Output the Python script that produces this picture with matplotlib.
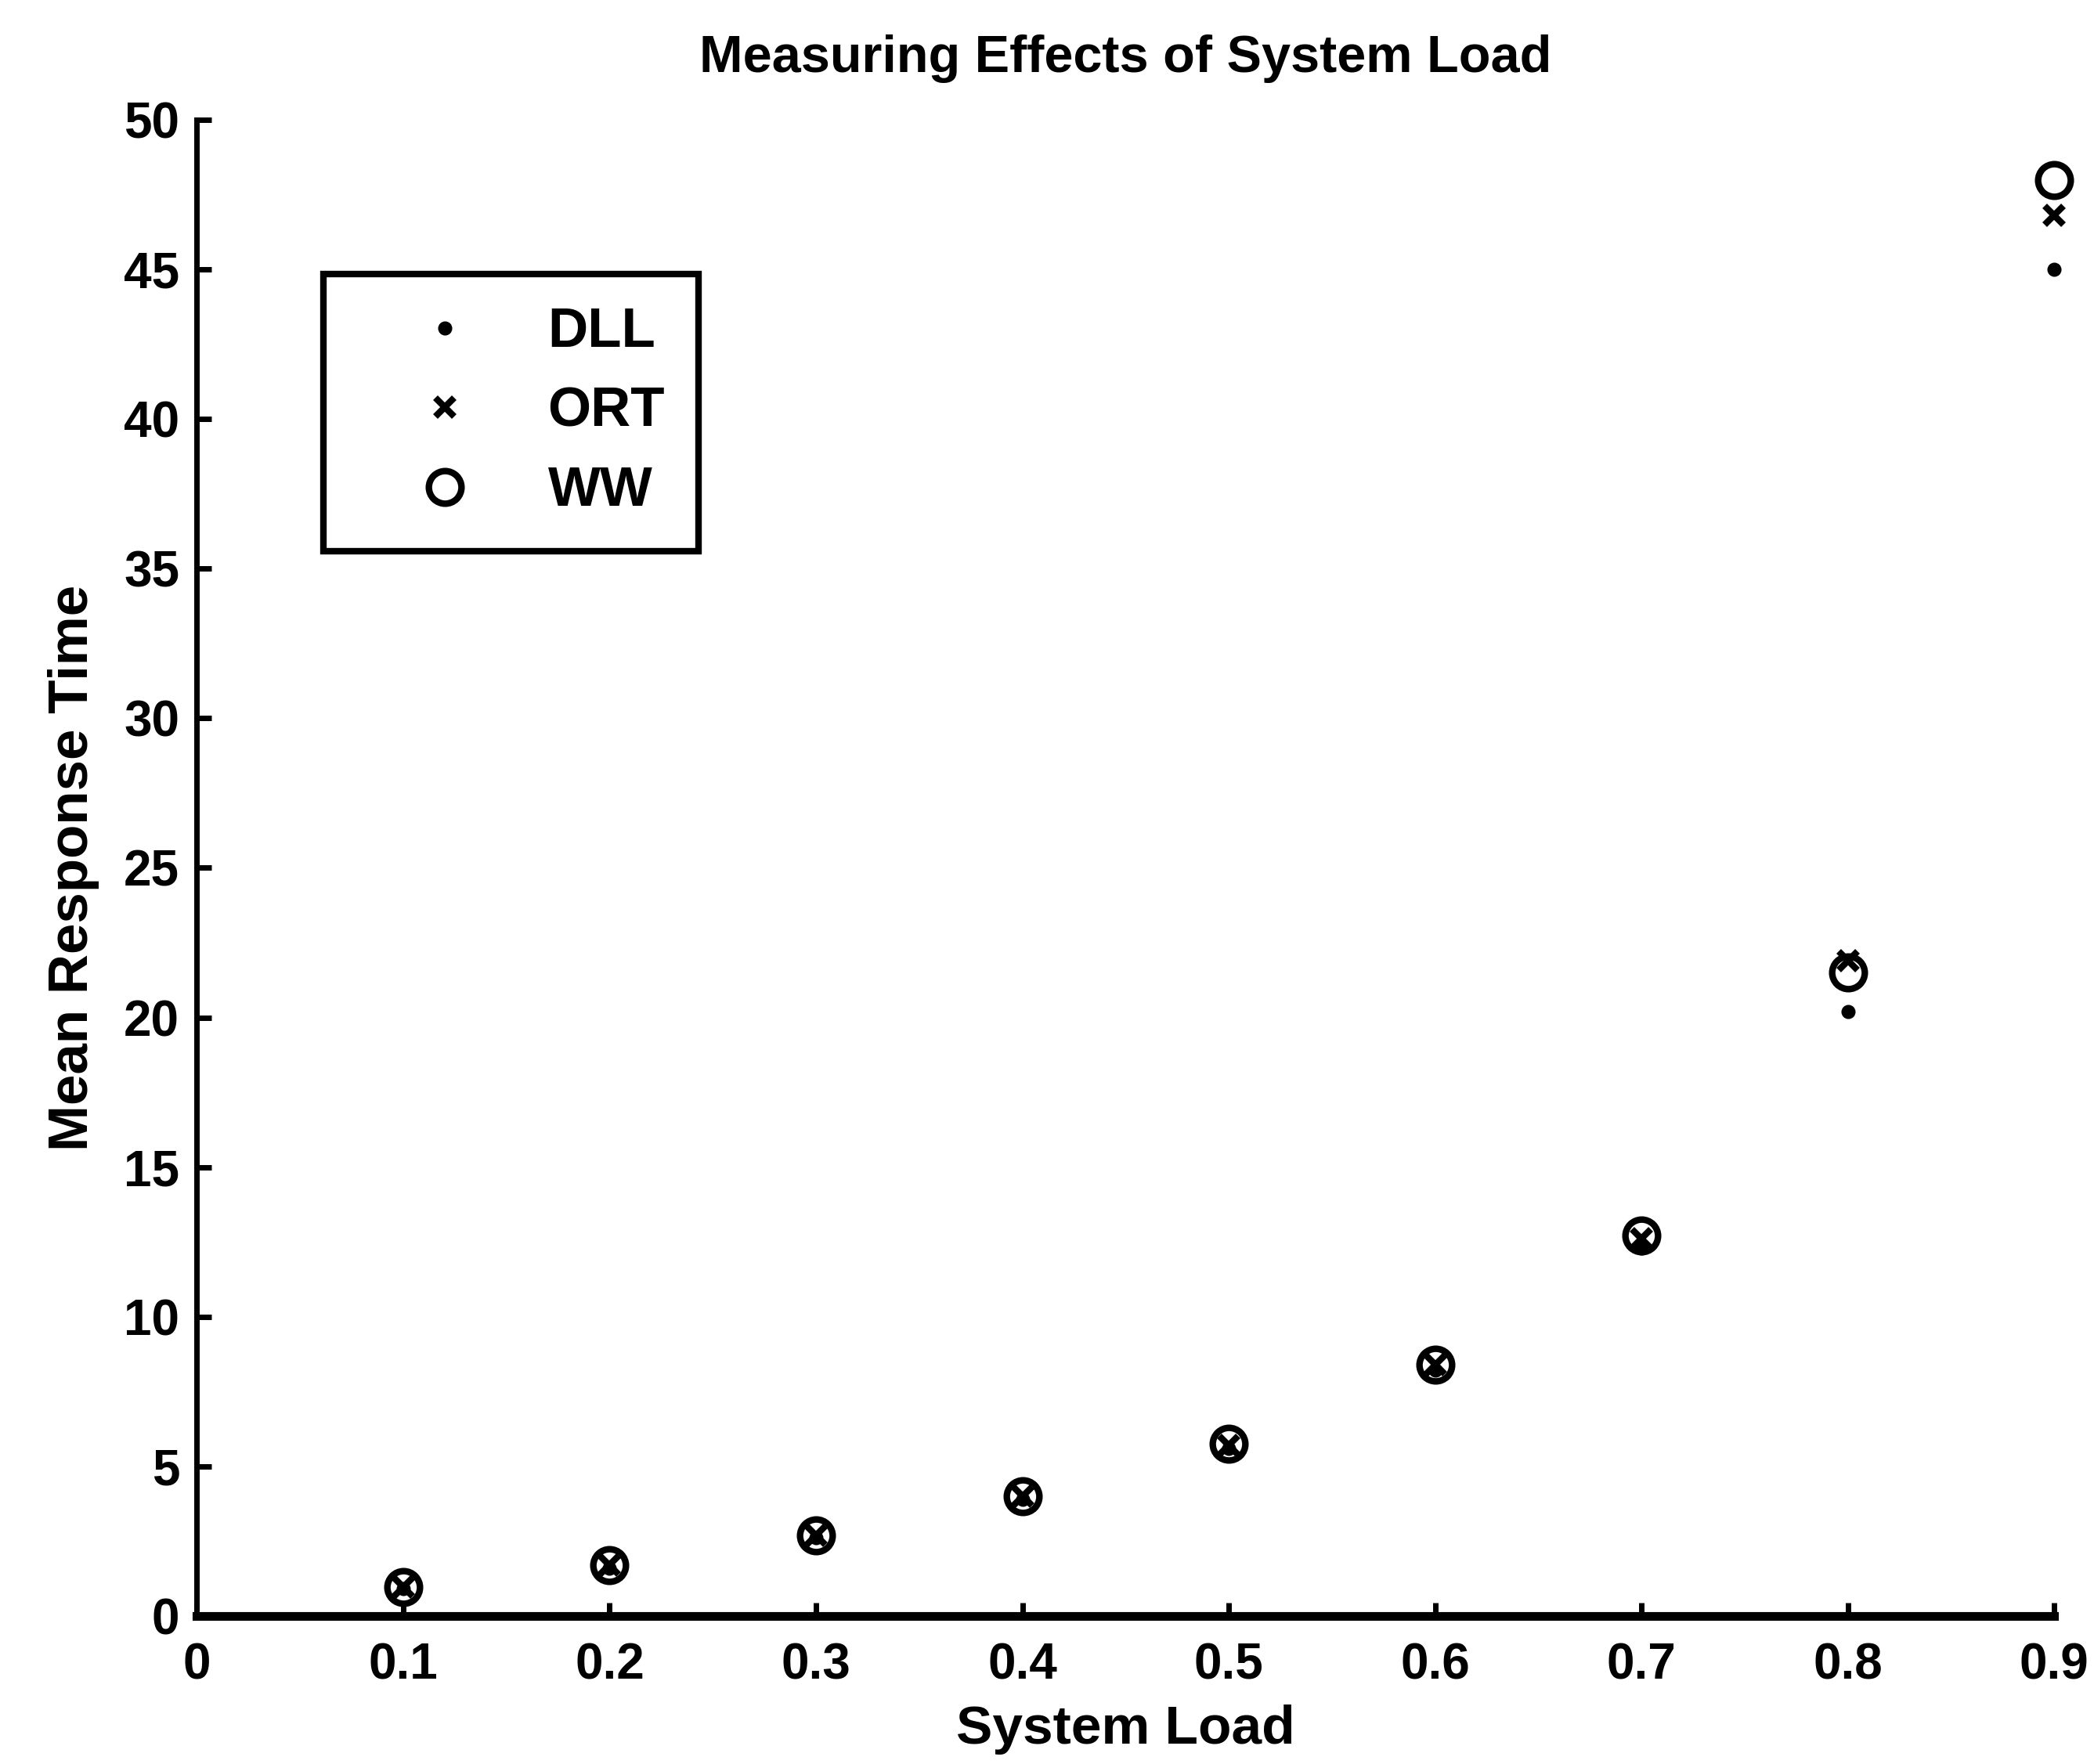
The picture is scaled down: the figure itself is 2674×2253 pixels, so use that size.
import matplotlib
matplotlib.use("Agg")
import matplotlib.pyplot as plt

load = [0.1, 0.2, 0.3, 0.4, 0.5, 0.6, 0.7, 0.8, 0.9]
dll = [0.9, 1.6, 2.6, 3.9, 5.6, 8.2, 12.3, 20.2, 45.0]
ort = [0.95, 1.7, 2.7, 4.0, 5.7, 8.4, 12.6, 21.9, 46.8]
ww = [0.95, 1.7, 2.7, 4.0, 5.75, 8.4, 12.7, 21.5, 48.0]

xticks = [0, 0.1, 0.2, 0.3, 0.4, 0.5, 0.6, 0.7, 0.8, 0.9]
xticklabels = ['0', '0.1', '0.2', '0.3', '0.4', '0.5', '0.6', '0.7', '0.8', '0.9']
yticks = [0, 5, 10, 15, 20, 25, 30, 35, 40, 45, 50]

plt.rcParams['font.family'] = ['Liberation Sans', 'DejaVu Sans']
plt.rcParams['font.weight'] = 'bold'

fig = plt.figure(figsize=(26.74, 22.53), dpi=100)
ax = fig.add_axes([0.094, 0.084, 0.887, 0.848])

ax.plot(load, dll, linestyle='none', marker='o', ms=12, color='black',
        mec='black', label='DLL', clip_on=False)
ax.plot(load, ort, linestyle='none', marker='x', ms=17, mew=6, color='black',
        label='ORT', clip_on=False)
ax.plot(load, ww, linestyle='none', marker='o', ms=30, mew=6, mfc='none',
        mec='black', label='WW', clip_on=False)

ax.set_xlim(0, 0.9)
ax.set_ylim(0, 50)
ax.set_xticks(xticks)
ax.set_xticklabels(xticklabels)
ax.set_yticks(yticks)

for s in ['top', 'right']:
    ax.spines[s].set_visible(False)
ax.spines['bottom'].set_linewidth(8)
ax.spines['left'].set_linewidth(5)
ax.tick_params(axis='x', direction='in', length=12, width=5, pad=24, labelsize=46)
ax.tick_params(axis='y', direction='in', length=14, width=5, pad=16, labelsize=46)

ax.set_xlabel('System Load', fontsize=50, fontweight='bold', labelpad=14)
ax.set_ylabel('Mean Response Time', fontsize=51, fontweight='bold', labelpad=22)
ax.set_title('Measuring Effects of System Load', fontsize=48,
             fontweight='bold', pad=44)

leg = ax.legend(loc='upper left', bbox_to_anchor=(0.068, 0.897), borderaxespad=0,
                fontsize=51, handlelength=3.2, handletextpad=0.25, borderpad=0.6,
                labelspacing=0.5, fancybox=False, framealpha=1)
leg.get_frame().set_edgecolor('black')
leg.get_frame().set_linewidth(6)

plt.savefig('out.png', dpi=100)
